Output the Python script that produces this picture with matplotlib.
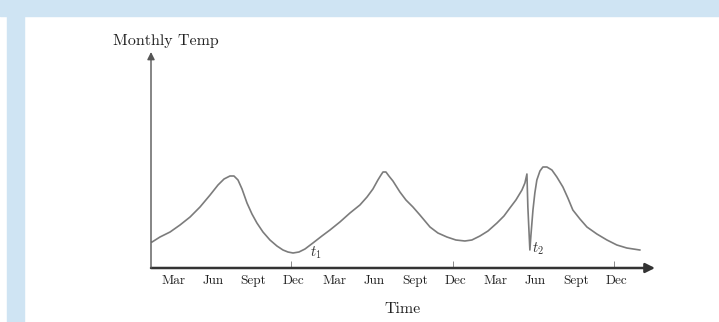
import matplotlib.pyplot as plt
import matplotlib.patches as patches

# curve (x in months from Jan of year 1, y = temperature units)
months = [1.44, 2.03, 2.78, 3.52, 4.27, 5.01, 5.76, 6.35, 6.80, 7.24, 7.54, 7.84, 8.14,
          8.51, 8.88, 9.25, 9.70, 10.22, 10.74, 11.19, 11.56, 11.94, 12.38, 12.83, 13.42,
          14.09, 14.69, 15.43, 16.18, 16.92, 17.45, 17.89, 18.26, 18.49, 18.64, 18.86,
          19.08, 19.38, 19.90, 20.35, 20.87, 21.39, 22.14, 22.73, 23.40, 24.07, 24.74,
          25.26, 25.86, 26.46, 27.13, 27.65, 28.09, 28.54, 28.99, 29.21, 29.36, 29.43,
          29.51, 29.58, 29.66, 29.81, 29.95, 30.10, 30.33, 30.55, 30.85, 31.22, 31.59,
          32.04, 32.41, 32.78, 33.31, 33.83, 34.57, 35.32, 36.06, 36.80, 37.77]
temps = [26, 31, 36, 43, 51, 61, 73, 83, 89, 92, 92, 88, 79,
         65, 54, 45, 36, 28, 22, 18, 16, 15, 16, 19, 25,
         32, 38, 46, 55, 63, 71, 79, 88, 93, 96, 96,
         92, 87, 76, 68, 61, 53, 41, 35, 31, 28, 27,
         28, 32, 37, 45, 52, 60, 68, 78, 85, 94, 61,
         38, 18, 33, 58, 75, 88, 97, 101, 101, 98, 91,
         81, 70, 58, 49, 41, 34, 28, 23, 20, 18]

tick_months = [3, 6, 9, 12, 15, 18, 21, 24, 27, 30, 33, 36]
tick_labels = ["Mar", "Jun", "Sept", "Dec", "Mar", "Jun", "Sept", "Dec", "Mar", "Jun", "Sept", "Dec"]
dec_marks = [11.8, 23.85, 35.85]
events = [(13.6, 15, "$t_1$"), (30.2, 19, "$t_2$")]

plt.rcParams['mathtext.fontset'] = 'cm'
W, H = 719, 322
fig = plt.figure(figsize=(W / 100, H / 100), dpi=100)

# light blue page frame
blue = "#cfe4f3"
fig.patches.append(patches.Rectangle((0, 1 - 16 / H), 1, 16 / H, transform=fig.transFigure,
                                     color=blue, zorder=0))
fig.patches.append(patches.Rectangle((7 / W, 0), 17 / W, 1 - 16 / H, transform=fig.transFigure,
                                     color=blue, zorder=0))

ax = fig.add_axes([151 / W, (H - 268) / H, (655 - 151) / W, (268 - 52) / H])
ax.set_facecolor("none")
ax.plot(months, temps, color="#7c7c7c", lw=1.2, clip_on=False, solid_joinstyle="round")
ax.set_xlim(1.36, 38.9)
ax.set_ylim(0, 216)

for s in ax.spines.values():
    s.set_visible(False)

# axes with arrows
ax.annotate("", xy=(1, 0), xytext=(0, 0), xycoords="axes fraction",
            arrowprops=dict(arrowstyle="-|>", color="#333333", lw=1.8, mutation_scale=14,
                            shrinkA=0, shrinkB=0))
ax.annotate("", xy=(0, 1), xytext=(0, 0), xycoords="axes fraction",
            arrowprops=dict(arrowstyle="-|>", color="#555555", lw=1.0, mutation_scale=11,
                            shrinkA=0, shrinkB=0))

ax.set_xticks(tick_months)
ax.set_xticklabels(tick_labels, fontfamily="cmr10", fontsize=9.5, color="#222222")
ax.tick_params(axis="x", length=0, pad=5)
ax.set_xticks(dec_marks, minor=True)
ax.tick_params(axis="x", which="minor", direction="in", length=5, width=0.6, color="#777777")
ax.set_yticks([])

ax.set_xlabel("Time", fontfamily="cmr10", fontsize=11.5, color="#222222", labelpad=11)
fig.text(166 / W, 1 - 41 / H, "Monthly Temp", fontfamily="cmr10", fontsize=11.5,
         color="#222222", ha="center", va="center")

for x, y, lab in events:
    ax.text(x, y, lab, fontsize=10.5, color="#333333", ha="center", va="center")

fig.savefig("out.png", dpi=100)
